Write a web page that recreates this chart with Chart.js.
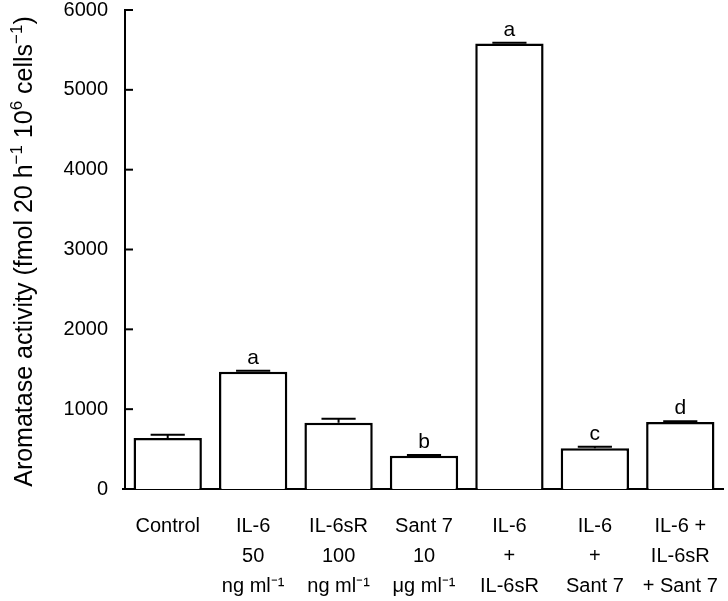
<!DOCTYPE html>
<html><head><meta charset="utf-8">
<script src="https://cdn.jsdelivr.net/npm/chart.js@4/dist/chart.umd.min.js"></script>
<style>html,body{margin:0;padding:0;background:#fff}#wrap{width:728px;height:601px}</style>
</head><body><div id="wrap"><canvas id="c" width="728" height="601"></canvas></div>
<script>
const categories = [
  ['Control'],
  ['IL-6','50','ng ml\u207B\u00B9'],
  ['IL-6sR','100','ng ml\u207B\u00B9'],
  ['Sant 7','10','\u03BCg ml\u207B\u00B9'],
  ['IL-6','+','IL-6sR'],
  ['IL-6','+','Sant 7'],
  ['IL-6 +','IL-6sR','+ Sant 7']
];
const values = [640, 1470, 830, 415, 5580, 510, 840];
const errors = [40, 10, 50, 10, 10, 20, 10];
const letters = ['', 'a', '', 'b', 'a', 'c', 'd'];
const yTicks = [0, 1000, 2000, 3000, 4000, 5000, 6000];
const FONT = 'Liberation Sans, Arial, Helvetica, sans-serif';

const extras = {
  id: 'extras',
  afterDatasetsDraw(chart) {
    const ctx = chart.ctx, x = chart.scales.x, y = chart.scales.y;
    const meta = chart.getDatasetMeta(0);
    ctx.save();
    ctx.strokeStyle = '#000'; ctx.lineWidth = 2;
    meta.data.forEach((bar, i) => {
      const top = y.getPixelForValue(values[i] + errors[i]);
      const base = y.getPixelForValue(values[i]);
      const cw = bar.width * 0.25;
      ctx.beginPath();
      ctx.moveTo(bar.x, base); ctx.lineTo(bar.x, top);
      ctx.moveTo(bar.x - cw, top); ctx.lineTo(bar.x + cw, top);
      ctx.stroke();
      if (letters[i]) {
        ctx.fillStyle = '#000';
        ctx.font = '21px ' + FONT;
        ctx.textAlign = 'center'; ctx.textBaseline = 'alphabetic';
        ctx.fillText(letters[i], bar.x, top - 7);
      }
    });
    const ax = chart.chartArea.left;
    yTicks.forEach(v => {
      if (v === 0) return;
      const py = y.getPixelForValue(v);
      ctx.beginPath(); ctx.moveTo(ax, py); ctx.lineTo(ax + 8, py); ctx.stroke();
    });
    // extend x axis slightly left
    const by = chart.chartArea.bottom;
    ctx.beginPath(); ctx.moveTo(ax - 3, by); ctx.lineTo(ax, by); ctx.stroke();
    // y title with superscripts
    const runs = [
      ['Aromatase activity (fmol 20 h', 0], ['\u22121', 1], [' 10', 0], ['6', 1], [' cells', 0], ['\u22121', 1], [')', 0]
    ];
    const big = '25px ' + FONT, small = '17px ' + FONT;
    let total = 0;
    runs.forEach(r => { ctx.font = r[1] ? small : big; total += ctx.measureText(r[0]).width; });
    ctx.translate(32, (chart.chartArea.top + chart.chartArea.bottom) / 2 + 2);
    ctx.rotate(-Math.PI / 2);
    let px = -total / 2;
    ctx.fillStyle = '#000'; ctx.textAlign = 'left'; ctx.textBaseline = 'alphabetic';
    runs.forEach(r => {
      ctx.font = r[1] ? small : big;
      ctx.fillText(r[0], px, r[1] ? -10 : 0);
      px += ctx.measureText(r[0]).width;
    });
    ctx.restore();
  }
};

new Chart(document.getElementById('c'), {
  type: 'bar',
  data: {
    labels: categories,
    datasets: [{
      data: values,
      backgroundColor: '#fff',
      borderColor: '#000',
      borderWidth: 2.5,
      borderSkipped: 'bottom',
      barPercentage: 0.8,
      categoryPercentage: 1
    }]
  },
  options: {
    responsive: false,
    animation: false,
    layout: { padding: { top: 10, right: 5, left: 0, bottom: 0 } },
    plugins: { legend: { display: false }, tooltip: { enabled: false } },
    scales: {
      x: {
        grid: { display: false, drawTicks: false },
        border: { display: true, color: '#000', width: 2 },
        ticks: { color: '#000', font: { size: 20, family: FONT, lineHeight: 1.5 }, padding: 22, maxRotation: 0, autoSkip: false },
        afterFit(s) { s.height = 112; s.paddingLeft = 0; s.paddingRight = 0; }
      },
      y: {
        min: 0, max: 6000,
        afterBuildTicks(s) { s.ticks = yTicks.map(v => ({ value: v })); },
        grid: { display: false, drawTicks: false },
        border: { display: true, color: '#000', width: 2 },
        ticks: { color: '#000', font: { size: 20, family: FONT }, padding: 17, callback: v => String(v) },
        afterFit(s) { s.width = 125; s.paddingTop = 0; s.paddingBottom = 0; }
      }
    }
  },
  plugins: [extras]
});
</script>
</body></html>
